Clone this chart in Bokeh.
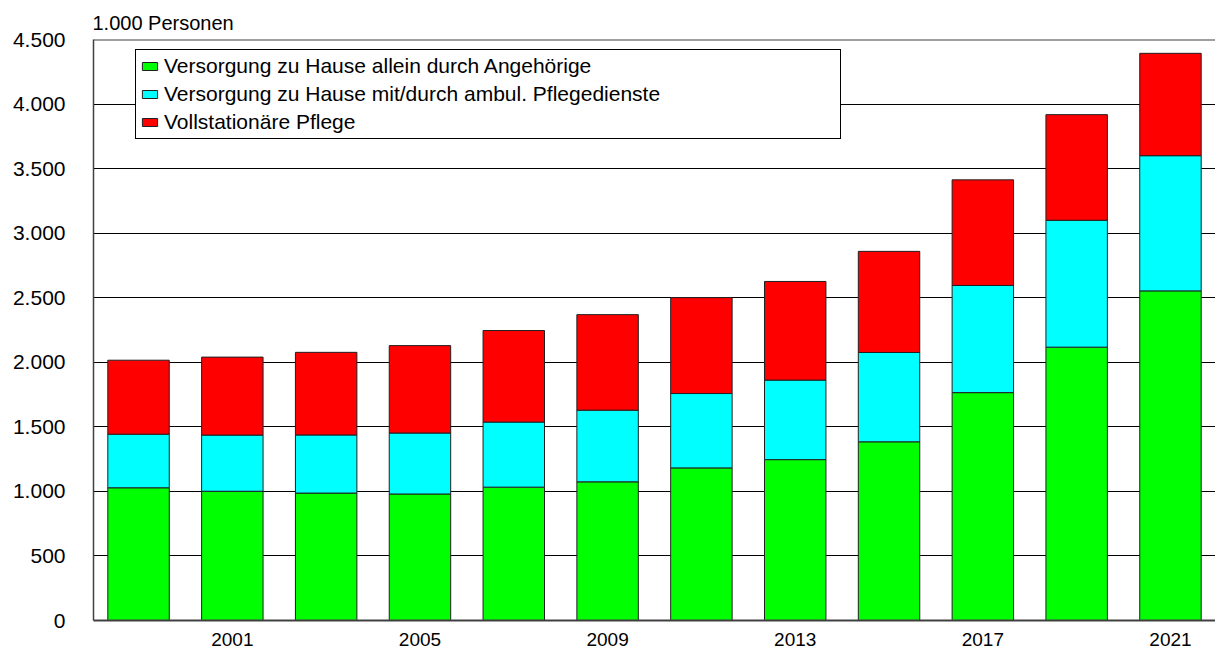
from bokeh.plotting import figure
from bokeh.models import Range1d, FixedTicker, Span, Legend
from bokeh.embed import file_html
from bokeh.resources import INLINE

years = [1999, 2001, 2003, 2005, 2007, 2009, 2011, 2013, 2015, 2017, 2019, 2021]
angehoerige = [1028, 1001, 987, 980, 1033, 1074, 1182, 1246, 1384, 1765, 2117, 2553]
ambulant = [415, 435, 450, 472, 504, 555, 576, 616, 692, 830, 983, 1047]
vollstationaer = [573, 604, 640, 677, 709, 740, 743, 764, 783, 818, 818, 793]

series_names = ["Versorgung zu Hause allein durch Angehörige",
                "Versorgung zu Hause mit/durch ambul. Pflegedienste",
                "Vollstationäre Pflege"]
colors = ["#00FF00", "#00FFFF", "#FF0000"]

y_ticks = [0, 500, 1000, 1500, 2000, 2500, 3000, 3500, 4000, 4500]
y_tick_labels = ["0", "500", "1.000", "1.500", "2.000", "2.500", "3.000", "3.500", "4.000", "4.500"]
x_ticks = [2001, 2005, 2009, 2013, 2017, 2021]
x_tick_labels = ["2001", "2005", "2009", "2013", "2017", "2021"]

FONT = "Liberation Sans"

data = dict(year=years, a=angehoerige, b=ambulant, c=vollstationaer)

p = figure(width=1215, height=654, output_backend="svg", toolbar_location=None,
           x_range=Range1d(1998.04, 2021.96), y_range=Range1d(0, 4500),
           min_border_left=93, min_border_right=0, min_border_top=39, min_border_bottom=34)

renderers = p.vbar_stack(["a", "b", "c"], x="year", width=1.31, source=data,
                         fill_color=colors, line_color="#202020", line_width=1)

p.title.text = "1.000 Personen"
p.title.text_font = FONT
p.title.text_font_size = "20px"
p.title.text_font_style = "normal"
p.title.text_color = "#000000"
p.title.align = "left"
p.title.offset = -1
p.title.standoff = 11

p.outline_line_color = None
p.background_fill_color = "white"
p.border_fill_color = "white"

p.xgrid.grid_line_color = None
p.ygrid.grid_line_color = "#000000"
p.ygrid.grid_line_width = 1
p.ygrid.ticker = FixedTicker(ticks=y_ticks)

p.yaxis.ticker = FixedTicker(ticks=y_ticks)
p.yaxis.major_label_overrides = {t: l for t, l in zip(y_ticks, y_tick_labels)}
p.yaxis.major_label_text_font = FONT
p.yaxis.major_label_text_font_size = "21px"
p.yaxis.major_label_text_color = "#000000"
p.yaxis.major_tick_out = 0
p.yaxis.major_tick_in = 0
p.yaxis.minor_tick_out = 0
p.yaxis.minor_tick_in = 0
p.yaxis.major_label_standoff = 28
p.yaxis.axis_line_color = "#404040"
p.yaxis.axis_line_width = 1.5

p.xaxis.ticker = FixedTicker(ticks=x_ticks)
p.xaxis.major_label_overrides = {t: l for t, l in zip(x_ticks, x_tick_labels)}
p.xaxis.major_label_text_font = FONT
p.xaxis.major_label_text_font_size = "19px"
p.xaxis.major_label_text_color = "#000000"
p.xaxis.major_tick_out = 0
p.xaxis.major_tick_in = 0
p.xaxis.minor_tick_out = 0
p.xaxis.minor_tick_in = 0
p.xaxis.major_label_standoff = 12
p.xaxis.axis_line_color = "#404040"
p.xaxis.axis_line_width = 2

p.add_layout(Span(location=4500, dimension="width", line_color="#404040", line_width=2))

legend = Legend(items=[(n, [r]) for n, r in zip(series_names, renderers)],
                location=(42, 481))
legend.label_text_font = FONT
legend.label_text_font_size = "21px"
legend.label_text_color = "#000000"
legend.glyph_width = 19
legend.glyph_height = 10
legend.label_height = 20
legend.label_width = 672
legend.label_standoff = 5
legend.spacing = 4
legend.padding = 4
legend.margin = 0
legend.border_line_color = "#000000"
legend.border_line_alpha = 1
legend.border_line_width = 1
legend.background_fill_color = "white"
legend.background_fill_alpha = 1
p.add_layout(legend, "center")

open("out.html", "w").write(file_html(p, INLINE))
